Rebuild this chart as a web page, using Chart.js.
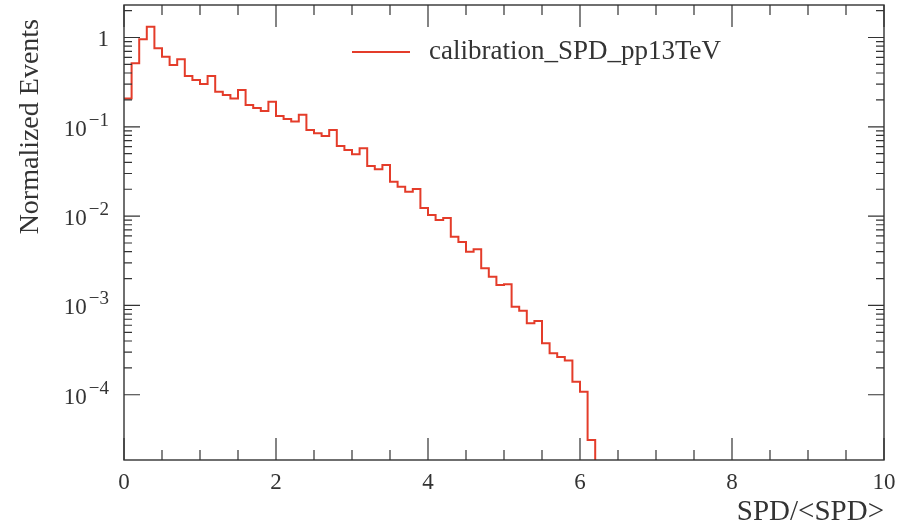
<!DOCTYPE html>
<html><head><meta charset="utf-8">
<script src="https://cdn.jsdelivr.net/npm/chart.js@4/dist/chart.umd.min.js"></script>
<style>html,body{margin:0;padding:0;background:#fff;overflow:hidden}#wrap{width:913px;height:530px}</style>
</head><body><div id="wrap"><canvas id="c" width="913" height="530"></canvas></div>
<script>
// ---- data (bin low edges and normalized counts) ----
const binLow = [0.0,0.1,0.2,0.3,0.4,0.5,0.6,0.7,0.8,0.9,1.0,1.1,1.2,1.3,1.4,1.5,1.6,1.7,1.8,1.9,2.0,2.1,2.2,2.3,2.4,2.5,2.6,2.7,2.8,2.9,3.0,3.1,3.2,3.3,3.4,3.5,3.6,3.7,3.8,3.9,4.0,4.1,4.2,4.3,4.4,4.5,4.6,4.7,4.8,4.9,5.0,5.1,5.2,5.3,5.4,5.5,5.6,5.7,5.8,5.9,6.0,6.1,6.2];
const normEvents = [0.208,0.514,0.955,1.32,0.757,0.609,0.492,0.570,0.371,0.334,0.301,0.371,0.247,0.227,0.208,0.258,0.175,0.162,0.150,0.191,0.132,0.122,0.115,0.136,0.092,0.0845,0.0788,0.092,0.061,0.055,0.0492,0.0574,0.0364,0.0334,0.0373,0.0243,0.0213,0.0187,0.0201,0.0123,0.0103,0.00904,0.00952,0.00588,0.00513,0.00399,0.00425,0.00260,0.00209,0.00169,0.00173,0.000966,0.000873,0.000631,0.000669,0.000377,0.000291,0.000264,0.000242,0.000140,0.000108,0.0000311,0];
const seriesName = 'calibration_SPD_pp13TeV';
const xTickValues = [0,0.5,1,1.5,2,2.5,3,3.5,4,4.5,5,5.5,6,6.5,7,7.5,8,8.5,9,9.5,10];
const xMajorTicks = [0,2,4,6,8,10];
const xTickLabels = ['0','2','4','6','8','10'];
const yMajorTicks = [1,0.1,0.01,0.001,0.0001];
const yTickBase = ['1','10','10','10','10'];
const yTickExp = ['','\u22121','\u22122','\u22123','\u22124'];
const yMinorMult = [2,3,4,5,6,7,8,9];
const xTitle = 'SPD/<SPD>';
const yTitle = 'Normalized Events';

const Y_MIN = 1.86e-5, Y_MAX = 2.31;
const LINE = 'rgb(228,60,42)';
const INK = '#333';
const FONT = "'Liberation Serif','DejaVu Serif',serif";

const points = binLow.map((x,i)=>({x:x, y: normEvents[i] > 0 ? normEvents[i] : Y_MIN/10}));

const framePlugin = {
  id:'frame',
  afterDraw(chart){
    const {ctx, chartArea:a, scales:{x,y}} = chart;
    ctx.save();
    ctx.strokeStyle = INK; ctx.lineWidth = 1.4;
    ctx.strokeRect(a.left, a.top, a.right-a.left, a.bottom-a.top);
    ctx.lineWidth = 1.2;
    ctx.beginPath();
    xTickValues.forEach(v=>{
      const px = x.getPixelForValue(v);
      const len = xMajorTicks.includes(v) ? 22 : 10;
      ctx.moveTo(px, a.bottom); ctx.lineTo(px, a.bottom-len);
      ctx.moveTo(px, a.top); ctx.lineTo(px, a.top+len);
    });
    yMajorTicks.concat([10]).forEach(base=>{
      yMinorMult.forEach(m=>{
        const v = base*m/10*10;
        if (v>Y_MIN && v<Y_MAX){
          const py = y.getPixelForValue(v);
          ctx.moveTo(a.left, py); ctx.lineTo(a.left+8, py);
          ctx.moveTo(a.right, py); ctx.lineTo(a.right-8, py);
        }
      });
    });
    yMajorTicks.forEach(v=>{
      const py = y.getPixelForValue(v);
      ctx.moveTo(a.left, py); ctx.lineTo(a.left+16, py);
      ctx.moveTo(a.right, py); ctx.lineTo(a.right-16, py);
    });
    ctx.stroke();
    // y tick labels
    ctx.fillStyle = INK; ctx.textBaseline = 'alphabetic';
    const R = 109;
    yMajorTicks.forEach((v,i)=>{
      const py = y.getPixelForValue(v);
      let wExp = 0;
      if (yTickExp[i]){
        ctx.font = '19px ' + FONT;
        wExp = ctx.measureText(yTickExp[i]).width;
        ctx.textAlign = 'left';
        ctx.fillText(yTickExp[i], R - wExp, py - 1);
        wExp += 2;
      }
      ctx.font = '23px ' + FONT;
      ctx.textAlign = 'right';
      ctx.fillText(yTickBase[i], R - wExp, py + 9);
    });
    // legend
    const ds = chart.data.datasets[0];
    ctx.strokeStyle = ds.borderColor; ctx.lineWidth = 2;
    ctx.beginPath(); ctx.moveTo(352, 52); ctx.lineTo(410, 52); ctx.stroke();
    ctx.font = '27px ' + FONT; ctx.textAlign='left'; ctx.textBaseline='middle';
    ctx.fillStyle = INK;
    ctx.fillText(ds.label, 429, 52);
    ctx.restore();
  }
};

new Chart(document.getElementById('c'), {
  type:'line',
  data:{ datasets:[{ label: seriesName, data: points, borderColor: LINE, borderWidth: 2,
    stepped:'before', pointRadius:0, fill:false, tension:0 }]},
  options:{
    responsive:false, animation:false, devicePixelRatio:1,
    layout:{padding:{left:0,right:29,top:5,bottom:0}},
    plugins:{legend:{display:false}, tooltip:{enabled:false}},
    scales:{
      x:{ type:'linear', min:0, max:10,
        afterFit: s=>{ s.height = 70; },
        afterBuildTicks: s=>{ s.ticks = xTickValues.map(v=>({value:v})); },
        grid:{display:false, drawTicks:false}, border:{display:false},
        ticks:{ autoSkip:false, maxRotation:0, padding:9, color:INK,
          font:{family:FONT, size:23},
          callback:(v)=>{ const k = xMajorTicks.indexOf(v); return k>=0 ? xTickLabels[k] : ''; } },
        title:{ display:true, text:xTitle, align:'end', color:INK,
          font:{family:FONT, size:29}, padding:{top:0,bottom:0} }
      },
      y:{ type:'logarithmic', min:Y_MIN, max:Y_MAX,
        afterFit: s=>{ s.width = 124; },
        grid:{display:false, drawTicks:false}, border:{display:false},
        ticks:{ display:false },
        title:{ display:true, text:yTitle + '  ', align:'end', color:INK,
          font:{family:FONT, size:28}, padding:{top:14,bottom:0} }
      }
    }
  },
  plugins:[framePlugin]
});
</script></body></html>
